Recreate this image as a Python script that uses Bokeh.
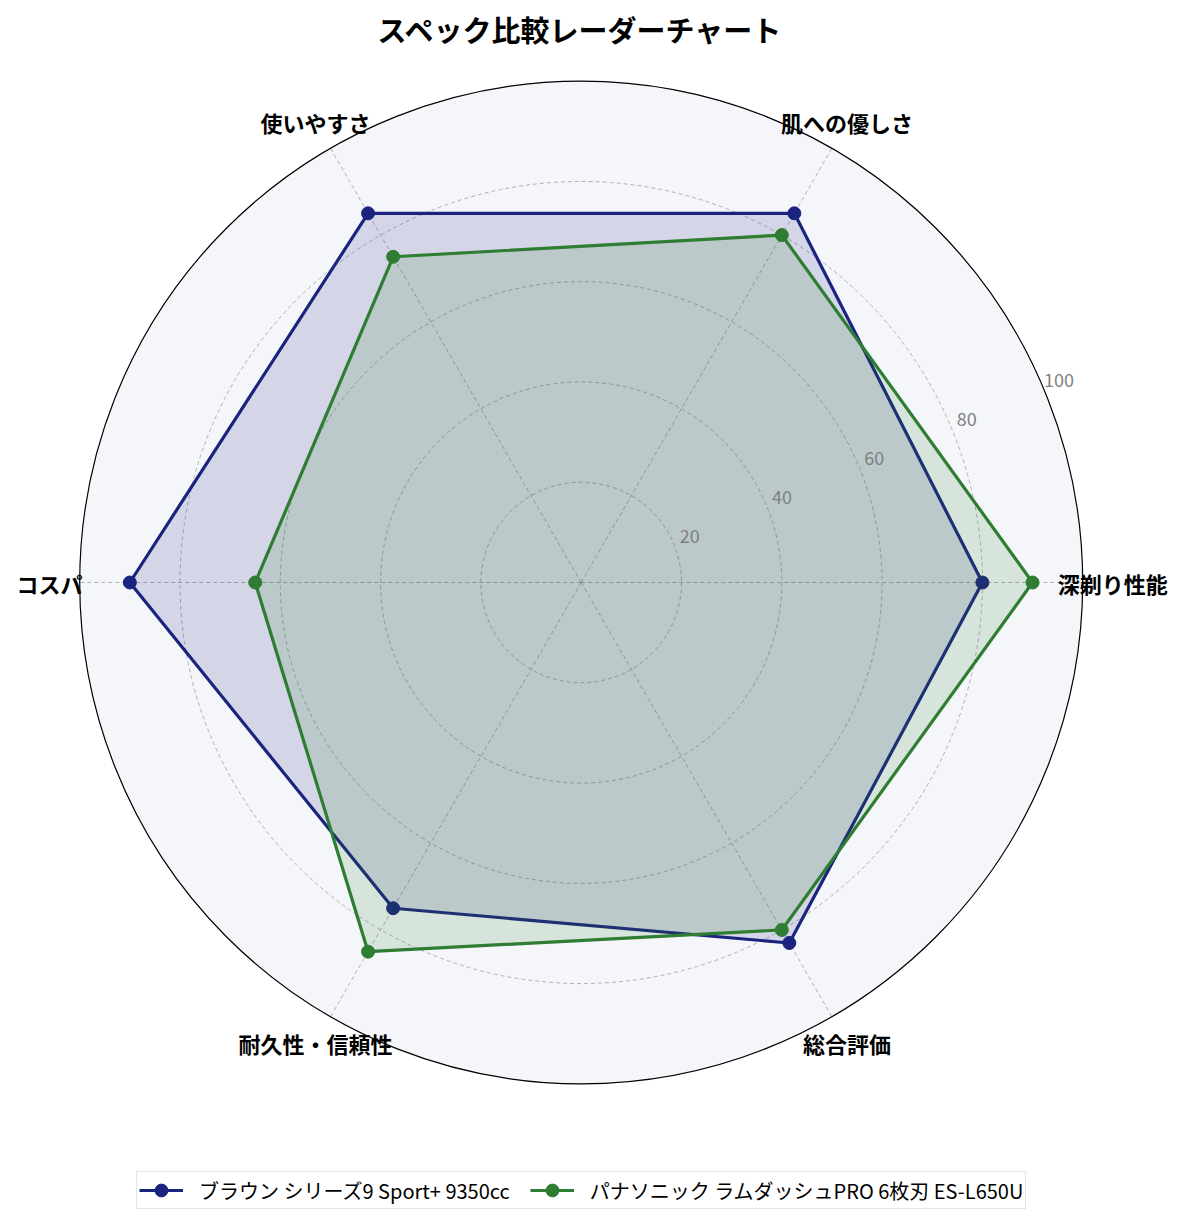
import numpy as np
from bokeh.plotting import figure
from bokeh.models import Range1d, Legend, LegendItem
from bokeh.core.properties import value
from bokeh.embed import file_html
from bokeh.resources import INLINE

# ---------------- data ----------------
categories = ["深剃り性能", "肌への優しさ", "使いやすさ", "コスパ", "耐久性・信頼性", "総合評価"]
braun_name = "ブラウン シリーズ9 Sport+ 9350cc"
braun_values = [80, 85, 85, 90, 75, 83]
pana_name = "パナソニック ラムダッシュPRO 6枚刃 ES-L650U"
pana_values = [90, 80, 75, 65, 85, 80]
r_ticks = [20, 40, 60, 80, 100]
r_tick_labels = ["20", "40", "60", "80", "100"]
title_text = "スペック比較レーダーチャート"

# ---------------- layout ----------------
FONT = "Noto Sans CJK JP"
W, H = 1169, 1209
S = 5.015              # px per data unit
CX, CY = 580.7, 582.0  # centre in figure px (from top-left)
x0 = -CX / S
x1 = (W - CX) / S
y1 = CY / S
y0 = -(H - CY) / S
RMAX = 100

p = figure(width=W, height=H, output_backend="svg", toolbar_location=None,
           x_range=Range1d(x0, x1), y_range=Range1d(y0, y1),
           min_border=0, background_fill_color="white", border_fill_color="white")
p.axis.visible = False
p.grid.visible = False
p.outline_line_color = None

N = len(categories)
angles = np.array([2 * np.pi * i / N for i in range(N)])

# polar background
p.circle(x=[0], y=[0], radius=RMAX, fill_color="#f5f6fa", line_color=None)

# grid circles
p.circle(x=[0] * 4, y=[0] * 4, radius=r_ticks[:-1], fill_color=None,
         line_color="#a0a0a0", line_width=0.8, line_dash="4 3")
# spokes
p.segment(x0=[0] * N, y0=[0] * N, x1=list(RMAX * np.cos(angles)), y1=list(RMAX * np.sin(angles)),
          line_color="#a0a0a0", line_width=0.8, line_dash="4 3")

# series
def series(vals, color):
    v = np.array(vals, dtype=float)
    xs = list(v * np.cos(angles)) + [v[0] * np.cos(angles[0])]
    ys = list(v * np.sin(angles)) + [v[0] * np.sin(angles[0])]
    p.patch(xs, ys, fill_color=color, fill_alpha=0.15, line_color=None)
    line = p.line(xs, ys, line_color=color, line_width=3.2)
    pts = p.scatter(list(v * np.cos(angles)), list(v * np.sin(angles)), size=13,
                    fill_color=color, line_color=color)
    return line, pts

NAVY = "#1a237e"
GREEN = "#2e7d32"
bl, bp = series(braun_values, NAVY)
gl, gp = series(pana_values, GREEN)

# outer circle border
p.circle(x=[0], y=[0], radius=RMAX, fill_color=None, line_color="black", line_width=1.2)

# radial tick labels
ta = np.deg2rad(23)
p.text(x=[(r + 3.5) * np.cos(ta) for r in r_ticks], y=[(r + 3.5) * np.sin(ta) for r in r_ticks],
       text=r_tick_labels, text_font=value(FONT), text_font_size="18px", text_color="#808080",
       text_align="center", text_baseline="middle")

# category labels
LR = 106
p.text(x=list(LR * np.cos(angles)), y=list(LR * np.sin(angles)), text=categories,
       text_font=value(FONT), text_font_size="22px", text_font_style="bold", text_color="black",
       text_align="center", text_baseline="middle")

# title
p.text(x=[(580 - CX) / S], y=[(CY - 28) / S], text=[title_text], text_font=value(FONT),
       text_font_size="29px", text_font_style="bold", text_color="black",
       text_align="center", text_baseline="middle")

legend = Legend(items=[LegendItem(label=braun_name, renderers=[bl, bp]),
                       LegendItem(label=pana_name, renderers=[gl, gp])],
                orientation="horizontal", location=(136, 0), margin=0,
                label_text_font=FONT, label_text_font_size="20px", label_text_color="black",
                label_height=20, glyph_height=32, glyph_width=44,
                border_line_color="#cccccc", border_line_width=1.5,
                background_fill_color="white", background_fill_alpha=1,
                label_standoff=16, spacing=20, padding=2)
p.add_layout(legend, "center")

open("out.html", "w").write(file_html(p, INLINE))
